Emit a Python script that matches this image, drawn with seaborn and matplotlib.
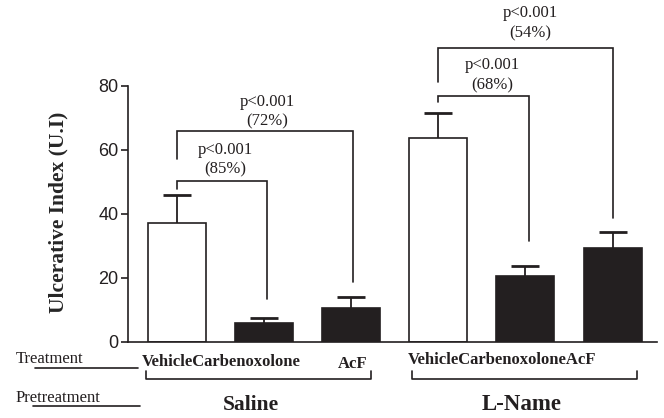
import matplotlib
matplotlib.use("Agg")
import matplotlib.pyplot as plt
import matplotlib.transforms as mtransforms
from matplotlib.lines import Line2D
import seaborn as sns
import pandas as pd
import numpy as np

# ---- data ----
groups = ["Saline", "Saline", "Saline", "L-Name", "L-Name", "L-Name"]
treatments = ["Vehicle", "Carbenoxolone", "AcF", "Vehicle", "Carbenoxolone", "AcF"]
values = [37.2, 5.8, 10.5, 63.7, 20.5, 29.3]
errors = [8.6, 1.6, 3.5, 7.8, 3.2, 5.0]
bar_colors = ["white", "#231f20", "#231f20", "white", "#231f20", "#231f20"]
yticks = [0, 20, 40, 60, 80]
ylabel = "Ulcerative Index (U.I)"
# comparisons: (i, j, p text, percent text)
comparisons = [(0, 1, "p<0.001", "(85%)"), (0, 2, "p<0.001", "(72%)"),
               (3, 4, "p<0.001", "(68%)"), (3, 5, "p<0.001", "(54%)")]

ids = [f"{g} {t}" for g, t in zip(groups, treatments)]
df = pd.DataFrame({"id": ids, "value": values})

sns.set_style("ticks")
plt.rcParams["font.family"] = ["Liberation Sans", "DejaVu Sans"]
SERIF = ["Liberation Serif", "DejaVu Serif"]
BLACK = "#231f20"

W, H = 664, 418
fig = plt.figure(figsize=(W / 100, H / 100), dpi=100)
ax = fig.add_axes([128 / W, (H - 341.7) / H, (657 - 128) / W, 341.7 / H])

sns.barplot(data=df, x="id", y="value", hue="id", order=ids, hue_order=ids,
            palette=dict(zip(ids, bar_colors)), saturation=1, width=0.665,
            edgecolor=BLACK, linewidth=1.2, errorbar=None, legend=False, ax=ax)

pos = np.arange(len(values))
eb = ax.errorbar(pos, values, yerr=[np.zeros(len(errors)), errors], fmt="none",
                 ecolor=BLACK, elinewidth=1.3, capsize=10.4, capthick=2.0,
                 zorder=3)
# keep only the upper caps
eb[1][0].set_visible(False)

ax.set_xlim(-0.559, 5.51)
ax.set_ylim(0, 341.7 / 3.2)
ax.set_yticks(yticks)
ax.set_xticks([])
ax.set_xlabel("")
ax.set_ylabel(ylabel, family=SERIF, fontweight="bold", fontsize=15.5)
ax.yaxis.set_label_coords(-0.113, 0.38)
for s in ["top", "right"]:
    ax.spines[s].set_visible(False)
ax.spines["left"].set_bounds(0, 80)
for s in ["left", "bottom"]:
    ax.spines[s].set_linewidth(1.2)
    ax.spines[s].set_color(BLACK)
ax.tick_params(axis="y", length=5, width=1.2, color=BLACK, labelsize=13,
               labelcolor=BLACK, pad=2)
ax.patch.set_alpha(0)

# ---- significance brackets ----
bracket_layout = [  # height, left leg bottom, right leg bottom, right x shift, text x, p y, pct y
    (50.2, 47.8, 13.5, 0.03, 0.555, 59.9, 53.7),
    (65.8, 57.0, 18.6, 0.02, 1.04, 74.9, 68.7),
    (76.8, 74.9, 31.4, 0.04, 3.62, 86.5, 80.2),
    (91.8, 81.2, 38.6, 0.0, 4.06, 102.7, 96.5),
]
for (i, j, ptxt, pct), (h, lb, rb, dx, tx, py, ply) in zip(comparisons, bracket_layout):
    xi, xj = pos[i], pos[j] + dx
    ax.plot([xi, xi, xj, xj], [lb, h, h, rb], color=BLACK, lw=1.2,
            clip_on=False, solid_joinstyle="miter")
    ax.text(tx, py, ptxt, ha="center", va="center", family=SERIF, fontsize=12,
            color=BLACK)
    ax.text(tx, ply, pct, ha="center", va="center", family=SERIF, fontsize=12,
            color=BLACK)

# ---- bottom labels ----
trans = mtransforms.blended_transform_factory(ax.transData, fig.transFigure)
fy = lambda px: 1 - px / H

fig.text(16 / W, fy(359), "Treatment", ha="left", va="center", family=SERIF,
         fontsize=12, color=BLACK)
fig.text(16 / W, fy(398), "Pretreatment", ha="left", va="center", family=SERIF,
         fontsize=12, color=BLACK)
fig.add_artist(Line2D([35 / W, 138 / W], [fy(368), fy(368)], color=BLACK, lw=1.2))
fig.add_artist(Line2D([33 / W, 140 / W], [fy(406), fy(406)], color=BLACK, lw=1.2))

ax.text(pos[0] - 0.4, fy(362), treatments[0] + treatments[1], transform=trans,
        ha="left", va="center", family=SERIF, fontsize=12, fontweight="bold",
        color=BLACK)
ax.text(pos[2] + 0.02, fy(364), treatments[2], transform=trans, ha="center",
        va="center", family=SERIF, fontsize=12, fontweight="bold", color=BLACK)
ax.text(pos[3] - 0.346, fy(360), "".join(treatments[3:]), transform=trans,
        ha="left", va="center", family=SERIF, fontsize=12, fontweight="bold",
        color=BLACK)

group_names = [groups[0], groups[3]]
group_spans = [(pos[0] - 0.35, pos[2] + 0.23), (pos[3] - 0.3, pos[5] + 0.28)]
group_label_x = [0.85, 3.96]
group_label_size = [15.5, 16.5]
for name, (a, b), gx, fs in zip(group_names, group_spans, group_label_x,
                                group_label_size):
    ax.plot([a, a, b, b], [fy(371), fy(379), fy(379), fy(371)], transform=trans,
            color=BLACK, lw=1.2, clip_on=False)
    ax.text(gx, fy(405), name, transform=trans, ha="center", va="center",
            family=SERIF, fontsize=fs, fontweight="bold", color=BLACK)

fig.savefig("out.png", dpi=100)
